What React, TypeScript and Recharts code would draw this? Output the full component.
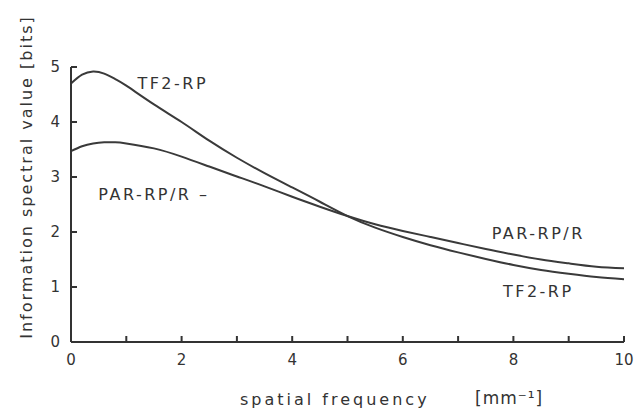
import { LineChart, Line, XAxis, YAxis, ReferenceDot } from 'recharts';

const freq = [0, 0.2, 0.4, 0.6, 0.8, 1, 1.5, 2, 2.5, 3, 3.5, 4, 4.5, 5, 5.5, 6, 6.5, 7, 7.5, 8, 8.5, 9, 9.5, 10];
const tf2 = [4.7, 4.86, 4.92, 4.88, 4.78, 4.66, 4.32, 4.0, 3.66, 3.35, 3.07, 2.81, 2.55, 2.29, 2.08, 1.91, 1.76, 1.63, 1.51, 1.4, 1.31, 1.24, 1.18, 1.14];
const par = [3.47, 3.56, 3.61, 3.63, 3.63, 3.61, 3.52, 3.37, 3.19, 3.01, 2.83, 2.64, 2.46, 2.29, 2.14, 2.02, 1.91, 1.8, 1.69, 1.59, 1.5, 1.43, 1.37, 1.34];

const xTicks = [0, 1, 2, 3, 4, 5, 6, 7, 8, 9, 10];
const yTicks = [0, 1, 2, 3, 4, 5];

const notes = [
  { x: 1.84, y: 4.7, text: 'TF2-RP' },
  { x: 1.5, y: 2.69, text: 'PAR-RP/R  –' },
  { x: 8.45, y: 1.97, text: 'PAR-RP/R' },
  { x: 8.45, y: 0.92, text: 'TF2-RP' },
];

const data = freq.map((x, i) => ({ x, tf2: tf2[i], par: par[i] }));

const INK = '#333';
const FONT = '"DejaVu Sans", sans-serif';

// tick marks point inward, drawn together with the labels
function XTick(props: any) {
  const { x, y, payload } = props;
  const cx = Number(x);
  const cy = Number(y);
  return (
    <g>
      <rect x={cx - 1} y={cy - 6} width={2} height={6} fill={INK} />
      {payload.value % 2 === 0 && (
        <text x={cx} y={cy + 23} textAnchor="middle" fontSize={15} fill={INK} fontFamily={FONT}>
          {payload.value}
        </text>
      )}
    </g>
  );
}

function YTick(props: any) {
  const { x, y, payload } = props;
  const cx = Number(x);
  const cy = Number(y);
  return (
    <g>
      <rect x={cx} y={cy - 1} width={6} height={2} fill={INK} />
      <text x={cx - 11} y={cy + 5} textAnchor="end" fontSize={15} fill={INK} fontFamily={FONT}>
        {payload.value}
      </text>
    </g>
  );
}

export default function App() {
  return (
    <div style={{ position: 'absolute', left: 0, top: 0, width: 642, height: 414, background: '#fff', fontFamily: FONT, color: INK }}>
      <LineChart width={642} height={414} data={data} margin={{ top: 67, right: 18, bottom: 42, left: 0 }}>
        <XAxis
          type="number"
          dataKey="x"
          domain={[0, 10]}
          ticks={xTicks}
          interval={0}
          height={30}
          tickLine={false}
          tickSize={0}
          tickMargin={0}
          tick={XTick}
          axisLine={{ stroke: INK, strokeWidth: 2 }}
        />
        <YAxis
          type="number"
          domain={[0, 5]}
          ticks={yTicks}
          interval={0}
          width={71}
          tickLine={false}
          tickSize={0}
          tickMargin={0}
          tick={YTick}
          axisLine={{ stroke: INK, strokeWidth: 2 }}
        />
        <Line type="natural" dataKey="tf2" stroke="#3a3a3a" strokeWidth={2} dot={false} isAnimationActive={false} />
        <Line type="natural" dataKey="par" stroke="#3a3a3a" strokeWidth={2} dot={false} isAnimationActive={false} />
        {notes.map((n, i) => (
          <ReferenceDot
            key={i}
            x={n.x}
            y={n.y}
            r={0}
            stroke="none"
            fill="none"
            label={{ value: n.text, position: 'center', fontSize: 16, fill: INK, fontFamily: FONT, letterSpacing: 2.5, style: { whiteSpace: 'pre' } }}
          />
        ))}
      </LineChart>
      <div
        style={{
          position: 'absolute',
          left: 27 - 180,
          top: 177 - 10,
          width: 360,
          height: 20,
          lineHeight: '20px',
          textAlign: 'center',
          fontSize: 16,
          letterSpacing: 2,
          transform: 'rotate(-90deg)',
          whiteSpace: 'nowrap',
        }}
      >
        Information spectral value [bits]
      </div>
      <div style={{ position: 'absolute', left: 240, top: 389, fontSize: 16, letterSpacing: 3, whiteSpace: 'pre', lineHeight: '22px' }}>
        spatial frequency
      </div>
      <div style={{ position: 'absolute', left: 475, top: 386, fontSize: 17, letterSpacing: 1, whiteSpace: 'pre', lineHeight: '24px' }}>
        [mm⁻¹]
      </div>
    </div>
  );
}
